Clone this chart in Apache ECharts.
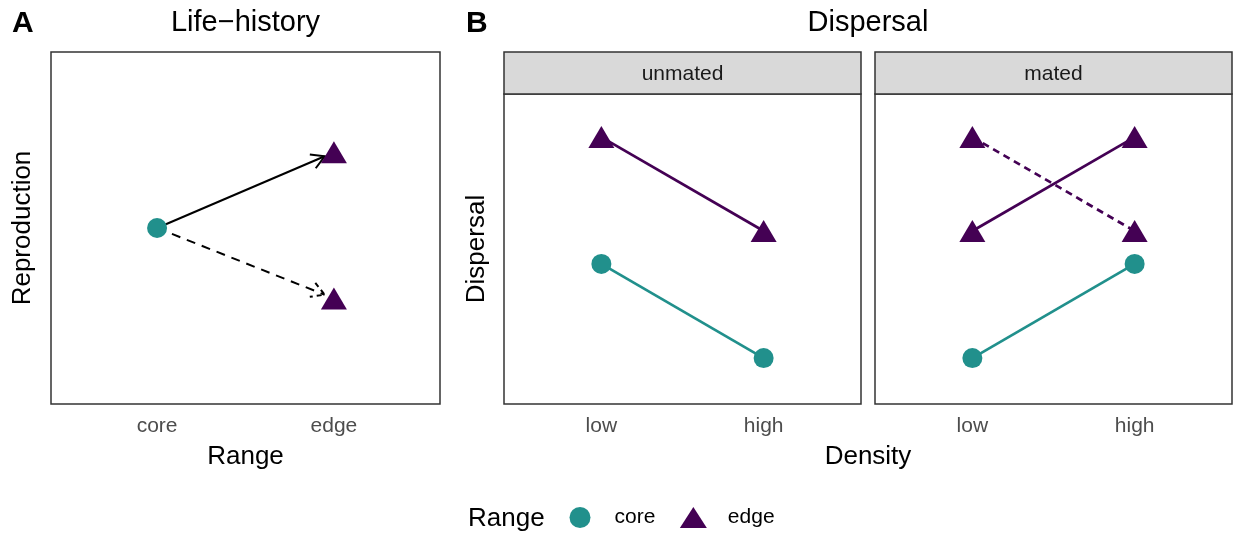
<!DOCTYPE html>
<html>
<head>
<meta charset="utf-8">
<script src="https://cdn.jsdelivr.net/npm/echarts@6/dist/echarts.min.js"></script>
<style>html,body{margin:0;padding:0;background:#fff}#c{width:1235px;height:535px}</style>
</head>
<body>
<div id="c"></div>
<script>
// ---- data ----
const rangeCats = ['core', 'edge'];
const densityCats = ['low', 'high'];
const facetNames = ['unmated', 'mated'];
// Panel A (Life-history): reproduction
const lifeCore = [5.0];          // core
const lifeEdge = [7.15, 3.0];    // edge (upper, lower)
// Panel B (Dispersal): values at [low, high]
const unmatedCore = [4.52, 1.48];
const unmatedEdge = [8.61, 5.58];
const matedCore = [1.48, 4.52];
const matedEdgeSolid = [5.58, 8.61];
const matedEdgeDashed = [8.61, 5.58];

const COL_CORE = '#21908C';
const COL_EDGE = '#440154';
const FONT = 'Liberation Sans, Arial, sans-serif';

const chart = echarts.init(document.getElementById('c'), null, {renderer: 'canvas'});

function xAxisFor(gi, cats) {
  return {
    gridIndex: gi, type: 'value', min: -0.6, max: 1.6,
    axisLine: {show: false}, axisTick: {show: false}, splitLine: {show: false},
    axisLabel: {customValues: [0, 1], formatter: v => cats[Math.round(v)],
      color: '#4d4d4d', fontSize: 21, fontFamily: FONT, margin: 12}
  };
}
function yAxisFor(gi) {
  return {
    gridIndex: gi, type: 'value', min: 0, max: 10,
    axisLine: {show: false}, axisTick: {show: false}, splitLine: {show: false},
    axisLabel: {show: false}
  };
}
const pairs = v => v.map((y, i) => [i, y]);

function lineSeries(gi, vals, color, dashed) {
  return {
    type: 'line', xAxisIndex: gi, yAxisIndex: gi, data: pairs(vals),
    symbol: 'none', lineStyle: {color: color, width: 2.7, type: dashed ? [7, 5] : 'solid'},
    silent: true, z: 2
  };
}
function pts(gi, name, data, color, shape) {
  return {
    type: 'scatter', name: name, xAxisIndex: gi, yAxisIndex: gi, data: data,
    symbol: shape, symbolSize: shape === 'circle' ? 20 : [26, 22],
    itemStyle: {color: color, opacity: 1}, z: 5
  };
}

// arrows for panel A
const arrowData = [
  [0, lifeCore[0], 1, lifeEdge[0], 0],
  [0, lifeCore[0], 1, lifeEdge[1], 1]
];
function renderArrow(params, api) {
  const p1 = api.coord([api.value(0), api.value(1)]);
  const p2 = api.coord([api.value(2), api.value(3)]);
  const dashed = api.value(4) === 1;
  const dx = p2[0] - p1[0], dy = p2[1] - p1[1];
  const L = Math.sqrt(dx * dx + dy * dy);
  const ux = dx / L, uy = dy / L;
  const tip = [p2[0] - ux * 10, p2[1] - uy * 10];
  const ah = 15, ang = Math.PI / 6;
  const cs = Math.cos(ang), sn = Math.sin(ang);
  const b1 = [tip[0] - ah * (ux * cs - uy * sn), tip[1] - ah * (uy * cs + ux * sn)];
  const b2 = [tip[0] - ah * (ux * cs + uy * sn), tip[1] - ah * (uy * cs - ux * sn)];
  const style = {stroke: '#000', lineWidth: 2, fill: null, lineDash: dashed ? [9, 7] : null};
  return {
    type: 'group', children: [
      {type: 'line', shape: {x1: p1[0], y1: p1[1], x2: tip[0], y2: tip[1]}, style: style},
      {type: 'polyline', shape: {points: [b1, tip, b2]}, style: Object.assign({}, style, {lineDash: dashed ? [5, 4] : null})}
    ]
  };
}

const option = {
  animation: false,
  backgroundColor: '#fff',
  grid: [
    {left: 51, top: 52, width: 389, height: 352, show: true, borderColor: '#333', borderWidth: 1.5, backgroundColor: '#fff'},
    {left: 504, top: 94, width: 357, height: 310, show: true, borderColor: '#333', borderWidth: 1.5, backgroundColor: '#fff'},
    {left: 875, top: 94, width: 357, height: 310, show: true, borderColor: '#333', borderWidth: 1.5, backgroundColor: '#fff'}
  ],
  xAxis: [xAxisFor(0, rangeCats), xAxisFor(1, densityCats), xAxisFor(2, densityCats)],
  yAxis: [yAxisFor(0), yAxisFor(1), yAxisFor(2)],
  legend: {
    data: [{name: 'core', icon: 'circle'}, {name: 'edge', icon: 'triangle'}],
    left: 569.5, top: 507, padding: 0, itemWidth: 27, itemHeight: 21, itemGap: 24.5,
    textStyle: {fontSize: 21, fontFamily: FONT, color: '#000', padding: [0, 0, 0, 16]},
    selectedMode: false
  },
  series: [
    {type: 'custom', xAxisIndex: 0, yAxisIndex: 0, data: arrowData, renderItem: renderArrow, z: 2, silent: true},
    pts(0, 'core', [[0, lifeCore[0]]], COL_CORE, 'circle'),
    pts(0, 'edge', lifeEdge.map(y => [1, y]), COL_EDGE, 'triangle'),
    lineSeries(1, unmatedCore, COL_CORE, false),
    lineSeries(1, unmatedEdge, COL_EDGE, false),
    pts(1, 'core', pairs(unmatedCore), COL_CORE, 'circle'),
    pts(1, 'edge', pairs(unmatedEdge), COL_EDGE, 'triangle'),
    lineSeries(2, matedCore, COL_CORE, false),
    lineSeries(2, matedEdgeSolid, COL_EDGE, false),
    lineSeries(2, matedEdgeDashed, COL_EDGE, true),
    pts(2, 'core', pairs(matedCore), COL_CORE, 'circle'),
    pts(2, 'edge', pairs(matedEdgeSolid), COL_EDGE, 'triangle'),
    pts(2, 'edge', pairs(matedEdgeDashed), COL_EDGE, 'triangle')
  ],
  graphic: [
    {type: 'text', x: 12, y: 24, style: {text: 'A', fontSize: 30, fontWeight: 'bold', fontFamily: FONT, fill: '#000', align: 'left', verticalAlign: 'middle'}},
    {type: 'text', x: 466, y: 24, style: {text: 'B', fontSize: 30, fontWeight: 'bold', fontFamily: FONT, fill: '#000', align: 'left', verticalAlign: 'middle'}},
    {type: 'text', x: 245.5, y: 23, style: {text: 'Life\u2212history', fontSize: 29, fontFamily: FONT, fill: '#000', align: 'center', verticalAlign: 'middle'}},
    {type: 'text', x: 868, y: 23, style: {text: 'Dispersal', fontSize: 29, fontFamily: FONT, fill: '#000', align: 'center', verticalAlign: 'middle'}},
    {type: 'rect', shape: {x: 504, y: 52, width: 357, height: 42}, style: {fill: '#d9d9d9', stroke: '#333', lineWidth: 1.5}},
    {type: 'rect', shape: {x: 875, y: 52, width: 357, height: 42}, style: {fill: '#d9d9d9', stroke: '#333', lineWidth: 1.5}},
    {type: 'text', x: 682.5, y: 74, style: {text: facetNames[0], fontSize: 21, fontFamily: FONT, fill: '#1a1a1a', align: 'center', verticalAlign: 'middle'}},
    {type: 'text', x: 1053.5, y: 74, style: {text: facetNames[1], fontSize: 21, fontFamily: FONT, fill: '#1a1a1a', align: 'center', verticalAlign: 'middle'}},
    {type: 'text', x: 245.5, y: 457, style: {text: 'Range', fontSize: 26, fontFamily: FONT, fill: '#000', align: 'center', verticalAlign: 'middle'}},
    {type: 'text', x: 868, y: 457, style: {text: 'Density', fontSize: 26, fontFamily: FONT, fill: '#000', align: 'center', verticalAlign: 'middle'}},
    {type: 'text', x: 23, y: 228, rotation: Math.PI / 2, style: {text: 'Reproduction', fontSize: 26, fontFamily: FONT, fill: '#000', align: 'center', verticalAlign: 'middle'}},
    {type: 'text', x: 477, y: 249, rotation: Math.PI / 2, style: {text: 'Dispersal', fontSize: 26, fontFamily: FONT, fill: '#000', align: 'center', verticalAlign: 'middle'}},
    {type: 'text', x: 468, y: 519, style: {text: 'Range', fontSize: 26, fontFamily: FONT, fill: '#000', align: 'left', verticalAlign: 'middle'}}
  ]
};
chart.setOption(option);
</script>
</body>
</html>
